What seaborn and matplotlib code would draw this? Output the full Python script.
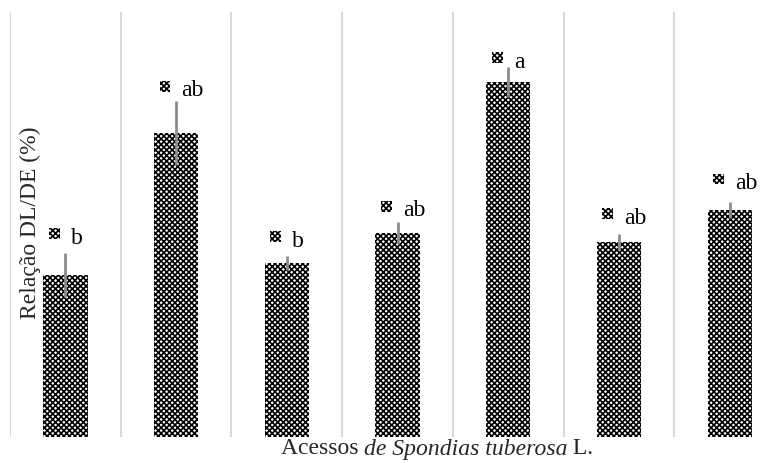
import matplotlib
matplotlib.use("Agg")
import matplotlib.pyplot as plt
import seaborn as sns
import pandas as pd

# Acessos (one bar each), mean DL/DE ratio and standard error
accessions = ["A1", "A2", "A3", "A4", "A5", "A6", "A7"]
ratio = [53.4, 100.1, 57.3, 67.2, 116.9, 64.2, 74.8]
std_err = [7.2, 10.5, 2.3, 3.6, 4.9, 2.6, 2.6]
letters = ["b", "ab", "b", "ab", "a", "ab", "ab"]
# height (data units) at which each significance letter sits
letter_y = [65.5, 114.0, 64.5, 74.5, 123.5, 72.0, 83.5]

sns.set_theme(style="white")
plt.rcParams["font.family"] = ["Liberation Serif", "DejaVu Serif"]
plt.rcParams["hatch.color"] = "black"
plt.rcParams["hatch.linewidth"] = 1.2

df = pd.DataFrame({"acesso": accessions, "ratio": ratio})

fig = plt.figure(figsize=(7.71, 4.63), dpi=100)
ax = fig.add_axes([10 / 771, 26 / 463, 775 / 771, 425 / 463])

sns.barplot(data=df, x="acesso", y="ratio", ax=ax, color="white",
            edgecolor="black", linewidth=0, hatch="xxxxxx", width=0.4,
            errorbar=None, saturation=1)

x = list(range(len(accessions)))
ax.errorbar(x, ratio, yerr=std_err, fmt="none", ecolor="#8c8c8c",
            elinewidth=2, capsize=0, zorder=4)

# separators between accessions
for b in [i - 0.5 for i in range(len(accessions) + 1)]:
    ax.axvline(b, color="#d9d9d9", lw=1.5, zorder=0)

# significance letters with a small patterned key
ax.scatter([xi - 0.1 for xi in x], [ly + 1.5 for ly in letter_y], marker="s",
           s=60, facecolor="white", edgecolor="black", linewidths=0,
           hatch="xxxxxx", zorder=5)
for xi, ly, t in zip(x, letter_y, letters):
    ax.text(xi + 0.05, ly, t, fontsize=17, ha="left", va="center", color="black")

ax.set_xlim(-0.5, len(accessions) - 0.5)
ax.set_ylim(0, 140)
ax.set_xticks([])
ax.set_yticks([])
ax.set_xlabel("")
ax.set_ylabel("")
for s in ax.spines.values():
    s.set_visible(False)

fig.text(30 / 771, 1 - 223 / 463, "Relação DL/DE (%)", rotation=90,
         ha="center", va="center", fontsize=17)

# x-axis title with the species name in italics
fig.canvas.draw()
renderer = fig.canvas.get_renderer()
parts = [("Acessos ", "normal"), ("de Spondias tuberosa", "italic"), (" L.", "normal")]
objs = [fig.text(0, 0, p, fontsize=17, style=st, va="center") for p, st in parts]
widths = [o.get_window_extent(renderer).width for o in objs]
total = sum(widths)
xpos = 437 - total / 2
for o, w in zip(objs, widths):
    o.set_position((xpos / 771, 1 - 449 / 463))
    xpos += w

fig.savefig("out.png", dpi=100)
